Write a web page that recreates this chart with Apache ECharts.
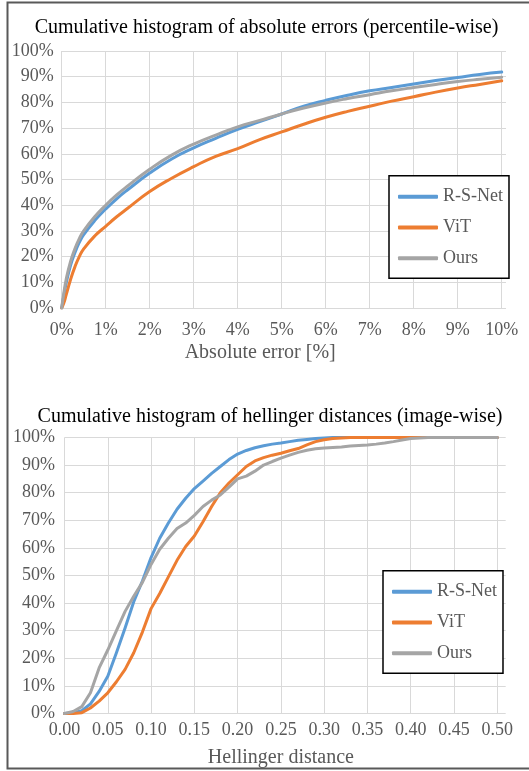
<!DOCTYPE html>
<html>
<head>
<meta charset="utf-8">
<script src="https://cdn.jsdelivr.net/npm/echarts@6/dist/echarts.min.js"></script>
<style>
html,body{margin:0;padding:0;background:#fff;}
#chart{width:529px;height:771px;}
</style>
</head>
<body>
<div id="chart"></div>
<script>
// ---- Top chart: cumulative histogram of absolute errors ----
var absErrorX = [0, 0.05, 0.1, 0.2, 0.3, 0.4, 0.5, 0.75, 1, 1.25, 1.5, 2, 2.5, 3, 3.5, 4, 4.5, 5, 5.5, 6, 6.5, 7, 7.5, 8, 8.5, 9, 9.5, 10];
var absRSNet = [0, 5, 9.5, 16.5, 21.5, 25.5, 28.5, 34, 38.5, 42.5, 46, 52.5, 58, 62.3, 66, 69.5, 72.5, 75.5, 78.5, 80.8, 82.8, 84.5, 85.8, 87.2, 88.5, 89.7, 90.9, 91.8];
var absViT   = [0, 2, 5, 11, 16, 20, 23, 28, 31.8, 35.5, 38.8, 45.3, 50.5, 55, 59, 62, 65.5, 68.5, 71.5, 74.2, 76.5, 78.5, 80.5, 82.2, 84, 85.6, 87, 88.4];
var absOurs  = [0, 6, 11, 18, 23, 27, 30, 35.5, 40, 44, 47.5, 54, 59.5, 63.8, 67.3, 70.5, 73, 75.5, 77.8, 79.8, 81.5, 83, 84.5, 85.8, 87, 88.1, 89, 89.8];

// ---- Bottom chart: cumulative histogram of hellinger distances ----
var hellX = [0.00,0.01,0.02,0.03,0.04,0.05,0.06,0.07,0.08,0.09,0.10,0.11,0.12,0.13,0.14,0.15,0.16,0.17,0.18,0.19,0.20,0.21,0.22,0.23,0.24,0.25,0.26,0.27,0.28,0.29,0.30,0.31,0.32,0.33,0.34,0.35,0.36,0.37,0.38,0.39,0.40,0.41,0.42,0.43,0.44,0.45,0.46,0.47,0.48,0.49,0.50];
var hellRSNet = [0,0.3,1,3.5,8,13.5,22,31,40.5,48,56.5,63.5,69,74,78,81.5,84.2,87,89.5,92,94,95.3,96.3,97,97.6,98,98.5,99,99.3,99.6,99.8,100,100,100,100,100,100,100,100,100,100,100,100,100,100,100,100,100,100,100,100];
var hellViT   = [0,0,0.3,2,4.5,7.5,11.5,16,22,29.5,38,43.5,49.5,55.5,60.5,64.3,69.5,75,80,83.5,86.5,89.5,91.5,92.7,93.6,94.3,95.2,96,97.3,98.5,99.2,99.6,99.8,100,100,100,100,100,100,100,100,100,100,100,100,100,100,100,100,100,100];
var hellOurs  = [0,0.7,2.5,7.5,16.5,23,30,37,42.5,47.5,54,59.5,63.5,67,69,71.8,75,77.3,79.2,82,85,86,87.8,90,91.3,92.5,93.6,94.6,95.4,95.9,96.2,96.4,96.6,96.9,97.1,97.3,97.6,98,98.5,99.1,99.6,99.8,100,100,100,100,100,100,100,100,100];

var seriesNames = ['R-S-Net', 'ViT', 'Ours'];
var seriesColors = ['#5B9BD5', '#ED7D31', '#A5A5A5'];

var FONT = 'Liberation Serif';
var LABEL = '#595959';
var GRIDC = '#D9D9D9';

function pairs(xs, ys) { return xs.map(function (x, i) { return [x, ys[i]]; }); }

var topData = [absRSNet, absViT, absOurs];
var botData = [hellRSNet, hellViT, hellOurs];

var series = [];
seriesNames.forEach(function (n, i) {
  series.push({
    name: n, type: 'line', xAxisIndex: 0, yAxisIndex: 0,
    data: pairs(absErrorX, topData[i]), symbol: 'none', showSymbol: false, smooth: 0.5,
    lineStyle: { color: seriesColors[i], width: 3, cap: 'round', join: 'round' }, itemStyle: { color: seriesColors[i] }
  });
});
seriesNames.forEach(function (n, i) {
  series.push({
    name: n, type: 'line', xAxisIndex: 1, yAxisIndex: 1,
    data: pairs(hellX, botData[i]), symbol: 'none', showSymbol: false,
    lineStyle: { color: seriesColors[i], width: 3, cap: 'round', join: 'round' }, itemStyle: { color: seriesColors[i] }
  });
});

var yBase = {
  type: 'value', min: 0, max: 100, interval: 10,
  axisLine: { show: false }, axisTick: { show: false }, splitLine: { show: false },
  axisLabel: { formatter: '{value}%', color: LABEL, fontFamily: FONT, fontSize: 18, margin: 8 }
};
function decorY(g) {
  return { type: 'value', gridIndex: g, min: 0, max: 100, interval: 10,
    axisLine: { show: false }, axisTick: { show: false }, axisLabel: { show: false },
    splitLine: { show: true, lineStyle: { color: GRIDC, width: 1 } } };
}
function decorX(g) { return { type: 'value', gridIndex: g, show: false, min: 0, max: 1 }; }

var legendBase = {
  orient: 'vertical', itemWidth: 40, itemHeight: 4, itemGap: 12.8, icon: 'roundRect',
  backgroundColor: '#fff', borderColor: '#000', borderWidth: 1.5,
  textStyle: { color: LABEL, fontFamily: FONT, fontSize: 18, lineHeight: 18 },
  data: seriesNames
};

var option = {
  animation: false,
  backgroundColor: '#fff',
  textStyle: { fontFamily: FONT },
  title: [
    { text: 'Cumulative histogram of absolute errors (percentile-wise)', left: 261.5, top: 13, textAlign: 'center',
      textStyle: { fontFamily: FONT, fontSize: 20, fontWeight: 'normal', color: '#000' } },
    { text: 'Cumulative histogram of hellinger distances (image-wise)', left: 265, top: 401.5, textAlign: 'center',
      textStyle: { fontFamily: FONT, fontSize: 20, fontWeight: 'normal', color: '#000' } }
  ],
  grid: [
    { left: 61.7, right: 27.3, top: 51, bottom: 463 },
    { left: 64.5, right: 31.7, top: 437.5, bottom: 57.5 },
    { left: 61.7, right: 23, top: 51, bottom: 463 },
    { left: 64.5, right: 23.3, top: 437.5, bottom: 57.5 }
  ],
  xAxis: [
    { type: 'value', gridIndex: 0, min: 0, max: 10, interval: 1,
      axisLine: { show: false }, axisTick: { show: false },
      splitLine: { show: true, lineStyle: { color: GRIDC, width: 1 } },
      axisLabel: { formatter: '{value}%', color: LABEL, fontFamily: FONT, fontSize: 18, margin: 13 },
      name: 'Absolute error [%]', nameLocation: 'middle', nameGap: 35,
      nameTextStyle: { color: LABEL, fontFamily: FONT, fontSize: 20, padding: [0, 43, 0, 0] } },
    { type: 'value', gridIndex: 1, min: 0, max: 0.5, interval: 0.05,
      axisLine: { show: false }, axisTick: { show: false },
      splitLine: { show: true, lineStyle: { color: GRIDC, width: 1 } },
      axisLabel: { formatter: function (v) { return v.toFixed(2); }, color: LABEL, fontFamily: FONT, fontSize: 18, margin: 8 },
      name: 'Hellinger distance', nameLocation: 'middle', nameGap: 34.5,
      nameTextStyle: { color: LABEL, fontFamily: FONT, fontSize: 20 } },
    decorX(2), decorX(3)
  ],
  yAxis: [
    Object.assign({}, yBase, { gridIndex: 0 }),
    Object.assign({}, yBase, { gridIndex: 1, axisLabel: Object.assign({}, yBase.axisLabel, { margin: 9.5 }) }),
    decorY(2), decorY(3)
  ],
  legend: [
    Object.assign({}, legendBase, { left: 389, top: 175.7, padding: [12, 6, 11, 9] }),
    Object.assign({}, legendBase, { left: 383, top: 570.7, padding: [12, 6, 11, 9] })
  ],
  graphic: [
    { type: 'rect', shape: { x: 7.5, y: 2.5, width: 540, height: 766 },
      style: { fill: null, stroke: '#595959', lineWidth: 2 }, z: 100 }
  ],
  series: series
};

var chart = echarts.init(document.getElementById('chart'), null, { renderer: 'canvas' });
chart.setOption(option);
</script>
</body>
</html>
